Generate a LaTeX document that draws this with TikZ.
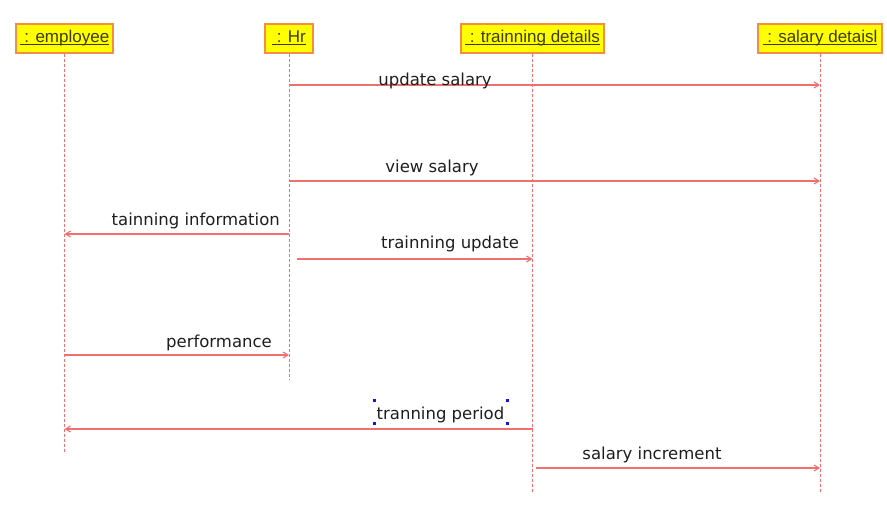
\documentclass[tikz,border=0pt]{standalone}
\usepackage{fontspec}
\setmainfont{DejaVu Sans}
\newfontfamily\boxfont{Liberation Sans}
\usetikzlibrary{arrows.meta}
\definecolor{LifeRed}{RGB}{240,112,112}
\definecolor{BoxFill}{RGB}{255,255,0}
\definecolor{BoxBorder}{RGB}{246,140,70}
\definecolor{BoxText}{RGB}{60,60,10}
\definecolor{MsgText}{RGB}{30,30,30}
\definecolor{GripBlue}{RGB}{20,20,220}
\newcommand{\objname}[1]{\setbox0\hbox{\ : #1}\rlap{\vrule height -1.8pt depth 3pt width \wd0}\box0}
\tikzset{
    objbox/.style={draw=BoxBorder,fill=BoxFill,line width=1.2pt,minimum height=29pt,inner sep=0pt,
        text height=12pt,text depth=4pt,text=BoxText,font=\boxfont\fontsize{17}{17}\selectfont},
    lifeline/.style={LifeRed,line width=0.9pt,dash pattern=on 3pt off 2pt},
    msg/.style={LifeRed,line width=1.1pt,-{Straight Barb[length=5pt,width=6pt]}},
    msglabel/.style={anchor=base,inner sep=0pt,text=MsgText,font=\fontsize{16.5}{16.5}\selectfont},
    grip/.style={fill=GripBlue,minimum size=3pt,inner sep=0pt}
}

\begin{document}
\begin{tikzpicture}[x=1pt,y=-1pt]
    \useasboundingbox (0,0) rectangle (887,511);    % Freeze the bounding box
    % --- --- --- Objects
    \node[objbox,minimum width=97pt]  (EMP) at (64.5,38.5) {\objname{employee}};
    \node[objbox,minimum width=48pt]  (HR)  at (289,38.5)  {\objname{Hr}};
    \node[objbox,minimum width=143pt] (TRN) at (532.5,38.5) {\objname{trainning details}};
    \node[objbox,minimum width=124pt] (SAL) at (820,38.5)  {\objname{salary detaisl}};
    % --- --- --- Lifelines
    \coordinate (EMP_END) at (64,452);
    \coordinate (HR_END)  at (289,380);
    \coordinate (TRN_END) at (532,492);
    \coordinate (SAL_END) at (820,492);
    \draw[lifeline] (EMP.south) -- (EMP.south |- EMP_END);
    \draw[lifeline] (HR.south)  -- (HR.south |- HR_END);
    \draw[lifeline] (TRN.south) -- (TRN.south |- TRN_END);
    \draw[lifeline] (SAL.south) -- (SAL.south |- SAL_END);
    % --- --- --- Message levels
    \path (0,85) coordinate (M1) (0,181) coordinate (M2) (0,234) coordinate (M3) (0,259) coordinate (M4)
          (0,355) coordinate (M5) (0,429) coordinate (M6) (0,468) coordinate (M7);
    % === === === Messages
    \draw[msg] (HR |- M1) -- (SAL |- M1);
    \node[msglabel] (L1) at (435,86) {update salary};
    \draw[msg] (HR |- M2) -- (SAL |- M2);
    \node[msglabel] (L2) at (432,172) {view salary};
    \draw[msg] (HR |- M3) -- (EMP |- M3);
    \node[msglabel,anchor=base east] (L3) at (280,225) {tainning information};
    \draw[msg] ([xshift=8pt]HR |- M4) -- (TRN |- M4);
    \node[msglabel] (L4) at (450,248) {trainning update};
    \draw[msg] (EMP |- M5) -- (HR |- M5);
    \node[msglabel,anchor=base east] (L5) at (272,347) {performance};
    \draw[msg] (TRN |- M6) -- (EMP |- M6);
    \node[msglabel,inner xsep=1.5pt,inner ysep=0pt] (L6) at (440.5,419) {tranning period};
    \draw[msg] ([xshift=3pt]TRN |- M7) -- (SAL |- M7);
    \node[msglabel] (L7) at (652,459) {salary increment};
    % --- --- --- Selection grips
    \node[grip] (G1) at (374,400) {};
    \node[grip] (G2) at (507,400) {};
    \node[grip] (G3) at (374,423) {};
    \node[grip] (G4) at (507,423) {};
\end{tikzpicture}
\end{document}
